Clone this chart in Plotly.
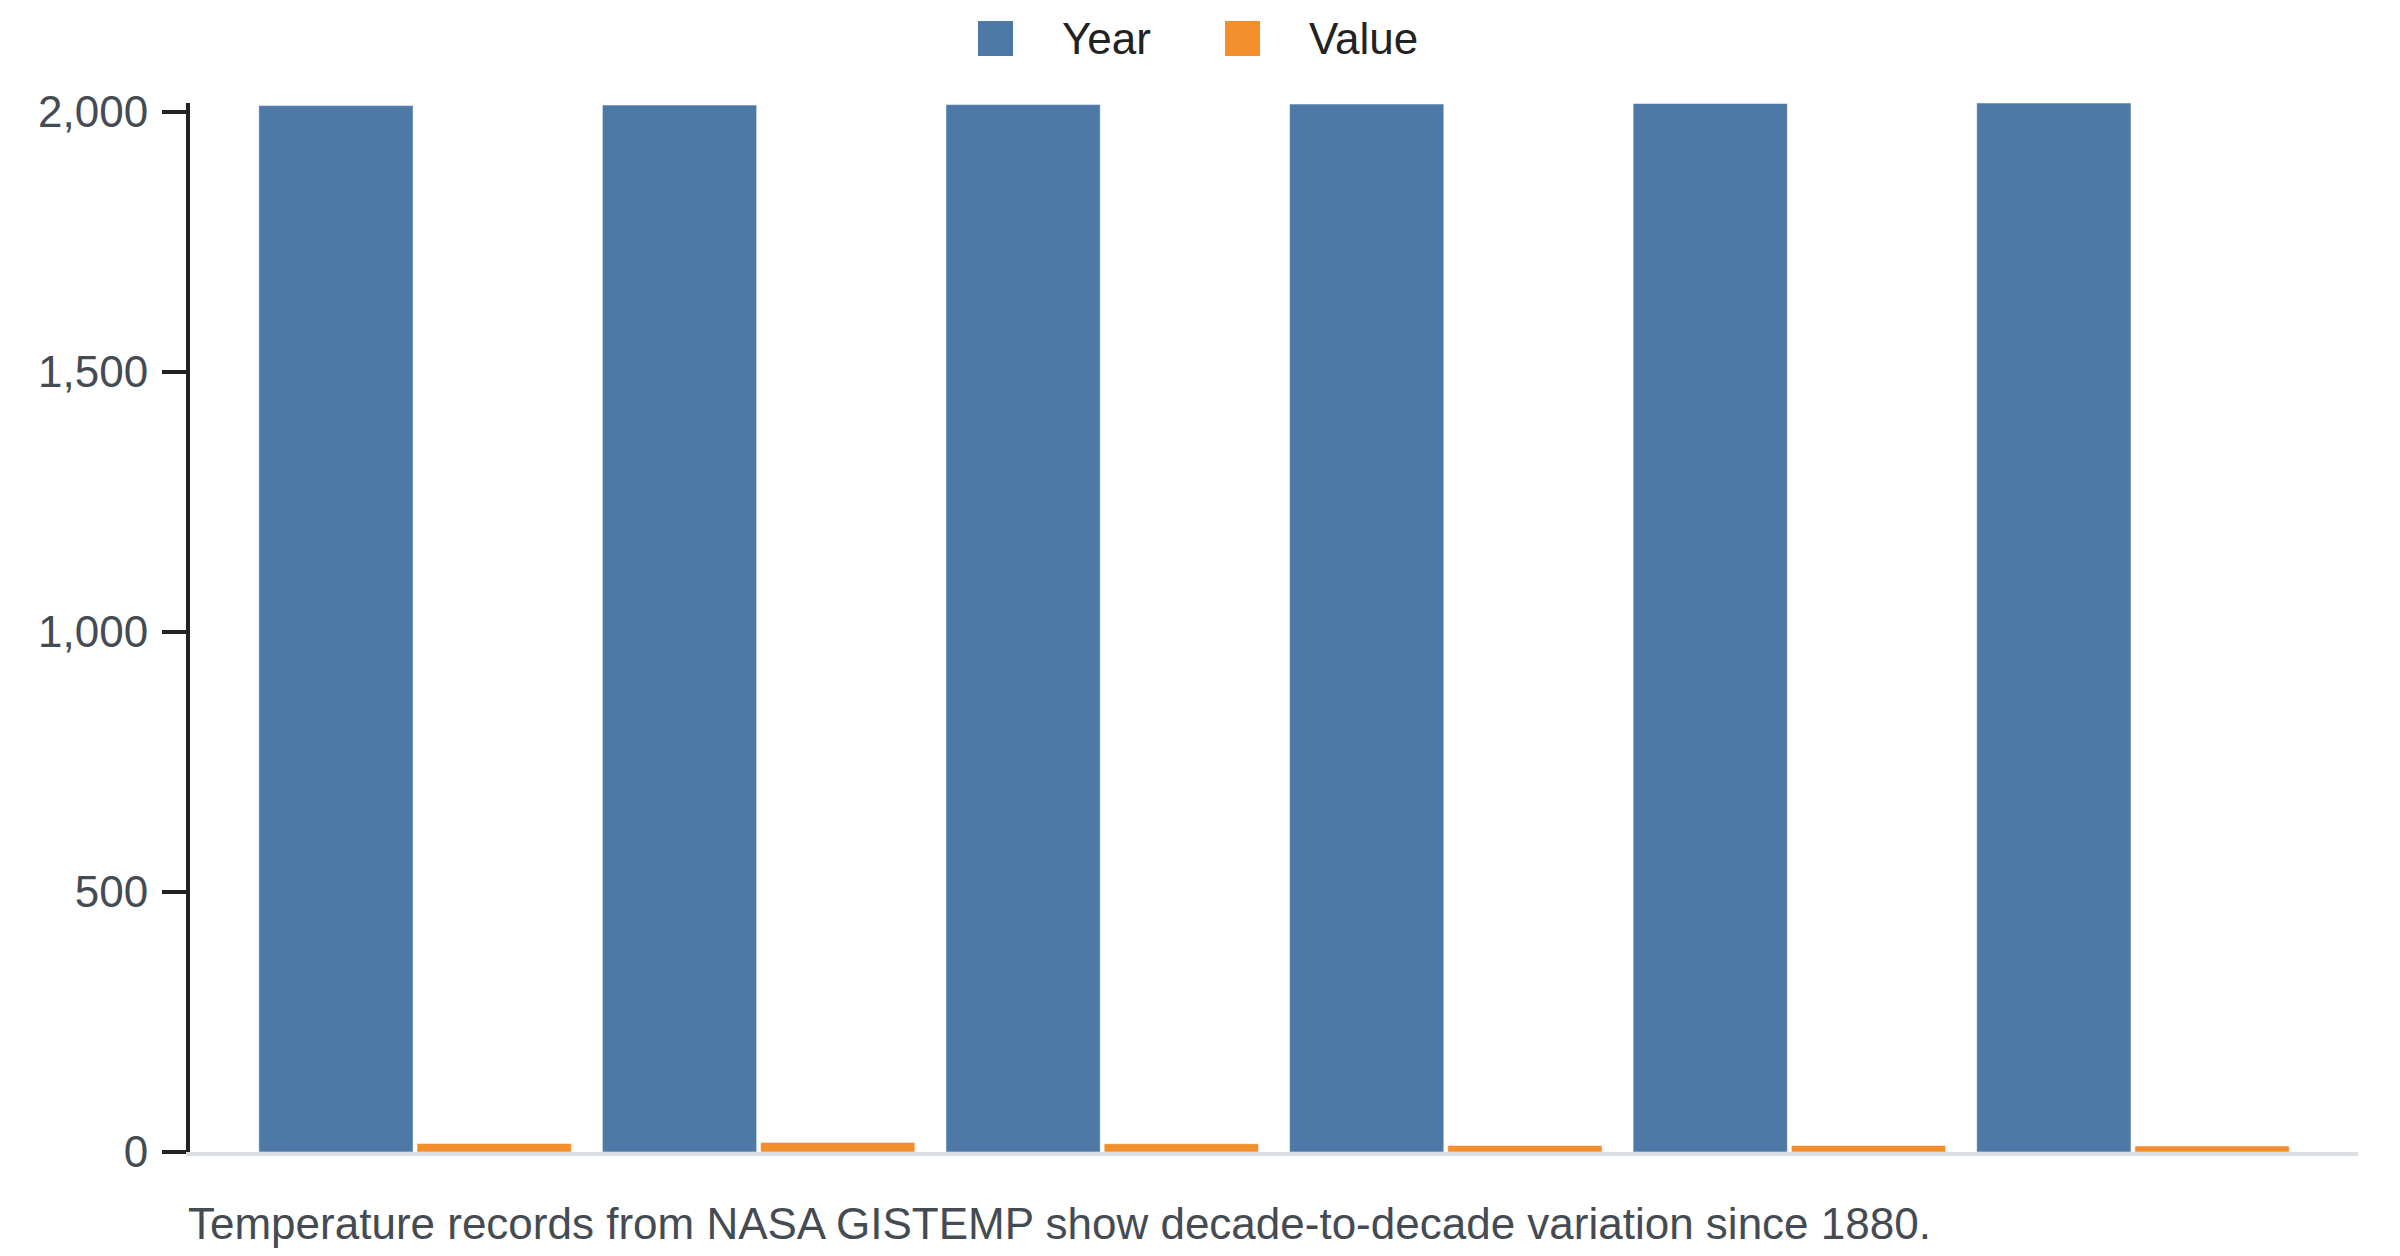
import plotly.graph_objects as go

# data
periods = ["P1", "P2", "P3", "P4", "P5", "P6"]
year_vals = [2012, 2013, 2014, 2015, 2016, 2017]
value_vals = [16.5, 18.5, 16.0, 12.5, 12.5, 11.5]
series_names = ["Year", "Value"]
caption = "Temperature records from NASA GISTEMP show decade-to-decade variation since 1880."

BLUE = "#4e79a7"
ORANGE = "#f28e2b"
FONT = "Liberation Sans, Arial, sans-serif"

W, H = 2400, 1256
L, R, T, B = 182, 50, 95, 112
pw, ph = W - L - R, H - T - B

fig = go.Figure()
fig.add_trace(go.Bar(x=periods, y=year_vals, name=series_names[0],
                     marker=dict(color=BLUE, line=dict(width=1, color="rgba(255,255,255,0.5)")),
                     showlegend=False))
fig.add_trace(go.Bar(x=periods, y=value_vals, name=series_names[1],
                     marker=dict(color=ORANGE, line=dict(width=1, color="rgba(255,255,255,0.5)")),
                     showlegend=False))


def px_x(p):
    return (p - L) / pw


def px_y(p):
    return (H - B - p) / ph


# custom legend (big square swatches)
shapes = []
annotations = []
for name, col, x0, tx in [(series_names[0], BLUE, 970, 1052), (series_names[1], ORANGE, 1217, 1299)]:
    shapes.append(dict(type="rect", xref="paper", yref="paper",
                       x0=px_x(x0), x1=px_x(x0 + 35), y0=px_y(13), y1=px_y(48),
                       fillcolor=col, line=dict(width=0)))
    annotations.append(dict(text=name, xref="paper", yref="paper", x=px_x(tx), y=px_y(30),
                            xanchor="left", yanchor="middle", showarrow=False,
                            font=dict(family=FONT, size=44, color="#222222")))

annotations.append(dict(text=caption, xref="paper", yref="paper", x=px_x(178), y=px_y(1215),
                        xanchor="left", yanchor="middle", showarrow=False,
                        font=dict(family=FONT, size=44, color="#454b52")))

fig.update_layout(
    width=W, height=H,
    margin=dict(l=L, r=R, t=T, b=B),
    paper_bgcolor="white", plot_bgcolor="white",
    barmode="group", bargap=0.079, bargroupgap=0.025,
    shapes=shapes, annotations=annotations,
    font=dict(family=FONT),
    xaxis=dict(showticklabels=False, ticks="", showgrid=False, zeroline=False,
               showline=True, linecolor="#dcdfe3", linewidth=4,
               range=[-0.655, 5.655]),
    yaxis=dict(range=[0, 2017], tickvals=[0, 500, 1000, 1500, 2000], tickformat=",",
               showgrid=False, zeroline=False, showline=True, linecolor="#222222", linewidth=4,
               ticks="outside", ticklen=24, tickwidth=4, tickcolor="#222222",
               ticklabelstandoff=5,
               tickfont=dict(family=FONT, size=44, color="#454b52")),
)

fig.write_html("out.html")
